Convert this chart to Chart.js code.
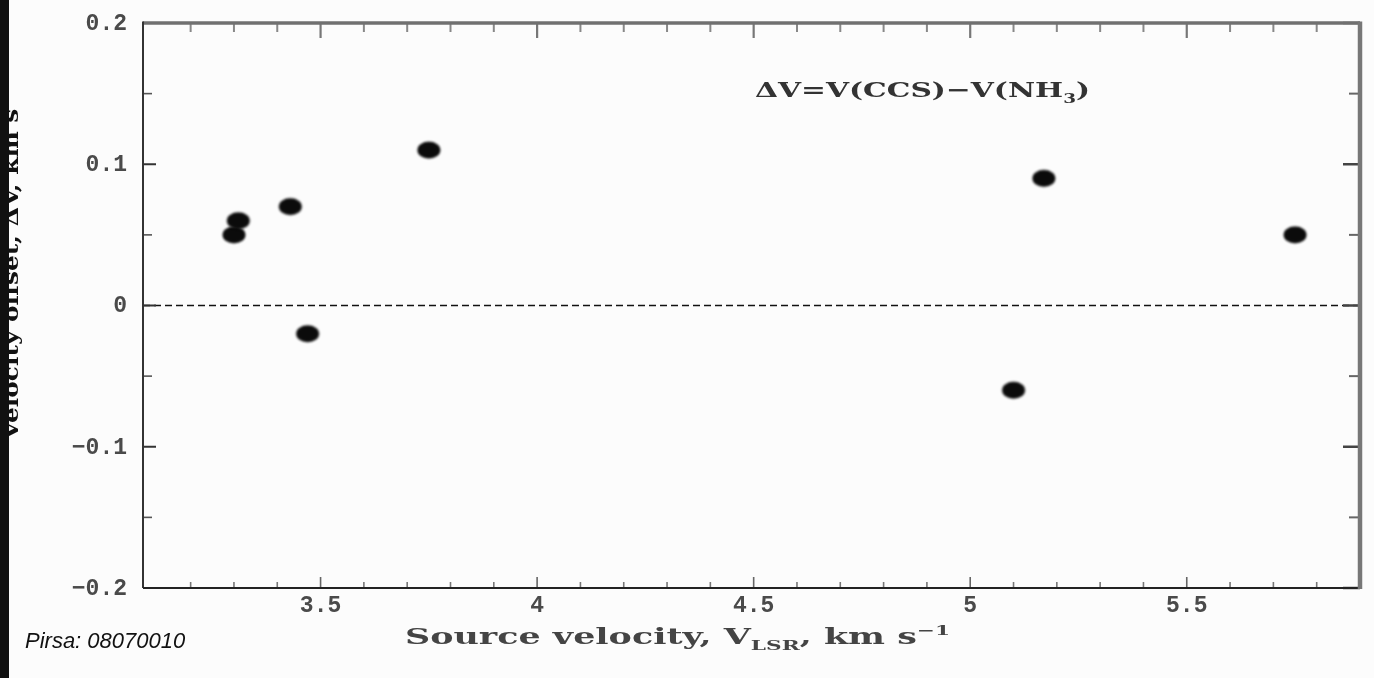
<!DOCTYPE html>
<html>
<head>
<meta charset="utf-8">
<title>Velocity offset vs source velocity</title>
<script src="https://cdn.jsdelivr.net/npm/chart.js@4.4.1/dist/chart.umd.min.js"></script>
<style>
  html, body { margin: 0; padding: 0; background: #fcfcfc; overflow: hidden; }
  #wrap { position: relative; width: 1374px; height: 678px; }
  #strip { position: absolute; left: 0; top: 0; width: 9px; height: 678px; background: #111; }
  #pirsa { position: absolute; left: 25px; top: 628px; font: italic 22px "Liberation Sans", Arial, sans-serif; color: #111; }
</style>
</head>
<body>
<div id="wrap">
  <canvas id="plot" width="1374" height="678"></canvas>
  <div id="strip"></div>
  <div id="pirsa">Pirsa: 08070010</div>
</div>
<script>
// source velocity V_LSR (km/s) and offset dV = V(CCS) - V(NH3) (km/s)
const velocity = [3.30, 3.31, 3.43, 3.47, 3.75, 5.10, 5.17, 5.75];
const deltaV   = [0.05, 0.06, 0.07, -0.02, 0.11, -0.06, 0.09, 0.05];

const xMin = 3.09, xMax = 5.9;
const yMin = -0.2, yMax = 0.2;
const xMajorTicks = [3.5, 4, 4.5, 5, 5.5];
const xTickLabels = ['3.5', '4', '4.5', '5', '5.5'];
const yMajorTicks = [0.2, 0.1, 0, -0.1, -0.2];
const yTickLabels = ['0.2', '0.1', '0', '\u22120.1', '\u22120.2'];

// minor ticks every 0.1 on x and every 0.05 on y
let xMinorTicks = [];
for (let i = 32; i <= 58; i++) {
    if (i % 5 !== 0) xMinorTicks.push(i / 10);
}
let yMinorTicks = [-0.15, -0.05, 0.05, 0.15];

const points = velocity.map((v, i) => ({x: v, y: deltaV[i]}));
const zeroLine = [{x: xMin, y: 0}, {x: xMax, y: 0}];

// slightly wide blotchy dot used as the marker
function makeDot() {
    const c = document.createElement('canvas');
    c.width = 32;
    c.height = 26;
    const g = c.getContext('2d');
    g.filter = 'blur(0.8px)';
    g.fillStyle = '#0b0b0b';
    g.beginPath();
    g.ellipse(16, 13, 11.5, 8.5, 0, 0, Math.PI * 2);
    g.fill();
    return c;
}

// draws text pieces (normal / sub / sup) squeezed or stretched to a width
function drawRuns(ctx, runs, x, y, width, size, font) {
    let natural = 0;
    runs.forEach(r => {
        const s = r.s === 'n' ? size : size * 0.62;
        ctx.font = font.replace('SIZE', s + 'px');
        r.w = ctx.measureText(r.t).width;
        r.size = s;
        natural += r.w;
    });
    const sx = width / natural;
    ctx.save();
    ctx.translate(x, y);
    ctx.scale(sx, 1);
    let cx = 0;
    runs.forEach(r => {
        ctx.font = font.replace('SIZE', r.size + 'px');
        let dy = 0;
        if (r.s === 'sub') dy = size * 0.28;
        if (r.s === 'sup') dy = -size * 0.42;
        ctx.fillText(r.t, cx, dy);
        cx += r.w;
    });
    ctx.restore();
}

const framePlugin = {
    id: 'frame',
    afterDraw(chart) {
        const ctx = chart.ctx;
        const a = chart.chartArea;
        const xs = chart.scales.x;
        const ys = chart.scales.y;
        ctx.save();

        // ticks pointing inward on all four sides
        const tick = (x1, y1, x2, y2, color, w) => {
            ctx.strokeStyle = color;
            ctx.lineWidth = w;
            ctx.beginPath();
            ctx.moveTo(x1, y1);
            ctx.lineTo(x2, y2);
            ctx.stroke();
        };
        xMajorTicks.forEach(v => {
            const px = xs.getPixelForValue(v);
            tick(px, a.bottom, px, a.bottom - 11, '#666', 1.6);
            tick(px, a.top, px, a.top + 15, '#777', 2.2);
        });
        xMinorTicks.forEach(v => {
            const px = xs.getPixelForValue(v);
            tick(px, a.bottom, px, a.bottom - 6, '#777', 1.6);
            tick(px, a.top, px, a.top + 9, '#888', 2);
        });
        yMajorTicks.forEach(v => {
            const py = ys.getPixelForValue(v);
            tick(a.left, py, a.left + 13, py, '#333', 2);
            tick(a.right, py, a.right - 17, py, '#444', 2.5);
        });
        yMinorTicks.forEach(v => {
            const py = ys.getPixelForValue(v);
            tick(a.left, py, a.left + 9, py, '#555', 1.6);
            tick(a.right, py, a.right - 11, py, '#666', 2);
        });

        // box
        tick(a.left, a.top, a.right, a.top, '#707070', 3.5);
        tick(a.left, a.top - 1.5, a.left, a.bottom, '#333', 2);
        tick(a.left, a.bottom, a.right + 2, a.bottom, '#222', 2);
        tick(a.right, a.top - 1.5, a.right, a.bottom + 1, '#777', 4.5);

        // tick labels
        ctx.fillStyle = '#4a4a4a';
        ctx.font = 'bold 23px "Liberation Mono", monospace';
        ctx.textBaseline = 'middle';
        ctx.textAlign = 'right';
        yMajorTicks.forEach((v, i) => {
            ctx.fillText(yTickLabels[i], a.left - 16, ys.getPixelForValue(v) + 1);
        });
        ctx.textAlign = 'center';
        xMajorTicks.forEach((v, i) => {
            ctx.fillText(xTickLabels[i], xs.getPixelForValue(v), a.bottom + 18);
        });

        // axis titles and annotation
        ctx.textAlign = 'left';
        ctx.textBaseline = 'alphabetic';
        const serif = 'bold SIZE "DejaVu Serif", serif';
        ctx.fillStyle = '#444';
        drawRuns(ctx, [
            {t: 'Source velocity, V', s: 'n'},
            {t: 'LSR', s: 'sub'},
            {t: ', km s', s: 'n'},
            {t: '\u22121', s: 'sup'}
        ], 405, 644, 545, 22, serif);

        ctx.fillStyle = '#333';
        drawRuns(ctx, [
            {t: '\u0394V=V(CCS)\u2212V(NH', s: 'n'},
            {t: '3', s: 'sub'},
            {t: ')', s: 'n'}
        ], 755, 97, 335, 21, serif);

        // y title, mostly hidden behind the left edge
        ctx.fillStyle = '#111';
        ctx.save();
        ctx.translate(18, 440);
        ctx.rotate(-Math.PI / 2);
        drawRuns(ctx, [
            {t: 'Velocity offset, \u0394V, km s', s: 'n'},
            {t: '\u22121', s: 'sup'}
        ], 0, 0, 355, 21, serif);
        ctx.restore();

        ctx.restore();
    }
};

const dot = makeDot();

const chart = new Chart(document.getElementById('plot'), {
    type: 'scatter',
    data: {
        datasets: [
            {
                type: 'line',
                data: zeroLine,
                borderColor: '#111',
                borderWidth: 1.5,
                borderDash: [7, 4],
                pointRadius: 0,
                order: 2
            },
            {
                data: points,
                pointStyle: dot,
                pointRadius: 10,
                order: 1
            }
        ]
    },
    options: {
        responsive: false,
        animation: false,
        layout: {padding: {left: 143, top: 23, right: 14, bottom: 90}},
        plugins: {
            legend: {display: false},
            tooltip: {enabled: false}
        },
        scales: {
            x: {type: 'linear', min: xMin, max: xMax, display: false},
            y: {type: 'linear', min: yMin, max: yMax, display: false}
        }
    },
    plugins: [framePlugin]
});
</script>
</body>
</html>
